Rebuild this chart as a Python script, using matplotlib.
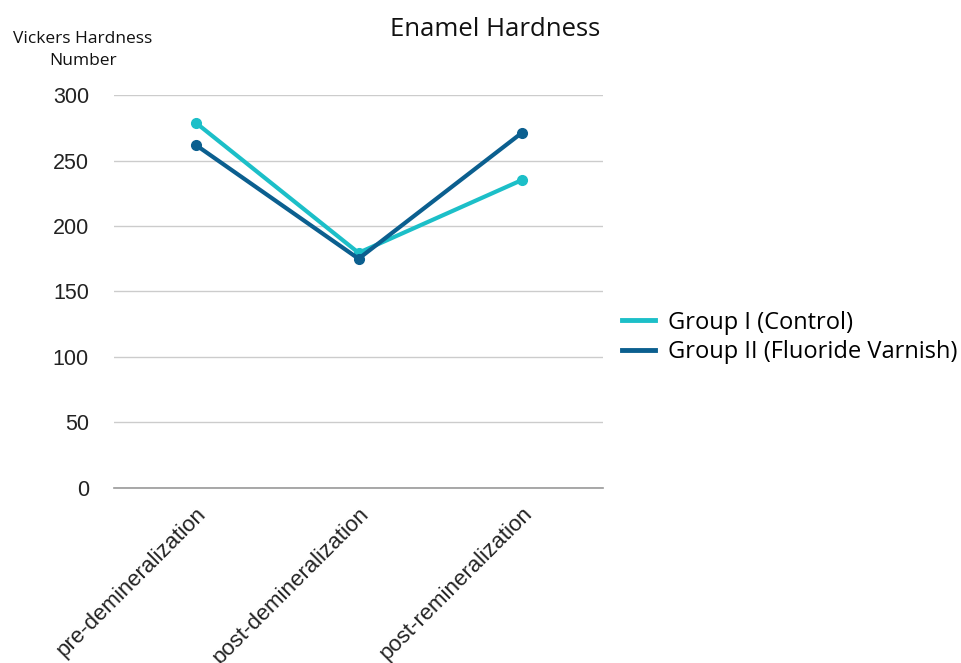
import matplotlib
matplotlib.use("Agg")
import matplotlib.pyplot as plt

categories = ["pre-demineralization", "post-demineralization", "post-remineralization"]
group1 = [279, 179.5, 235]
group2 = [262, 175, 271]
series_names = ["Group I (Control)", "Group II (Fluoride Varnish)"]
yticks = [0, 50, 100, 150, 200, 250, 300]

c1 = "#1cbfc8"
c2 = "#0b5f8f"

fig = plt.figure(figsize=(9.62, 6.63), dpi=100)
ax = fig.add_axes([0.1185, 0.264, 0.5085, 0.5927])

x = list(range(len(categories)))
ax.plot(x, group1, color=c1, lw=3, marker="o", ms=7, label=series_names[0], zorder=3)
ax.plot(x, group2, color=c2, lw=3, marker="o", ms=7, label=series_names[1], zorder=3)

ax.set_xlim(-0.5, 2.5)
ax.set_ylim(0, 300)
ax.set_yticks(yticks)
ax.set_yticklabels([str(v) for v in yticks], family="Liberation Sans", fontsize=15.5, color="#222222")
ax.set_xticks(x)
ax.set_xticklabels(categories, rotation=45, ha="right", rotation_mode="anchor",
                   family="Liberation Sans", fontsize=16, color="#222222")
ax.tick_params(axis="y", length=0, pad=18)
ax.tick_params(axis="x", length=0, pad=11)
ax.grid(axis="y", color="#cccccc", lw=1)
ax.set_axisbelow(True)
for s in ["top", "right", "left"]:
    ax.spines[s].set_visible(False)
ax.spines["bottom"].set_color("#999999")
ax.spines["bottom"].set_linewidth(1.2)

fig.text(0.515, 0.955, "Enamel Hardness", ha="center", va="center",
         family="Open Sans", fontsize=18.5, color="#111111")
fig.text(0.086, 0.925, "Vickers Hardness\nNumber", ha="center", va="center",
         family="Open Sans", fontsize=12.5, color="#111111", linespacing=1.5)

leg = fig.legend(loc="center left", bbox_to_anchor=(0.6466, 0.491), frameon=False,
                 prop={"family": "Open Sans", "size": 17}, handlelength=1.4,
                 handletextpad=0.55, labelspacing=0.25, borderpad=0, borderaxespad=0)
for h in leg.legend_handles:
    h.set_marker("")
    h.set_linewidth(3.5)

fig.savefig("out.png", dpi=100)
